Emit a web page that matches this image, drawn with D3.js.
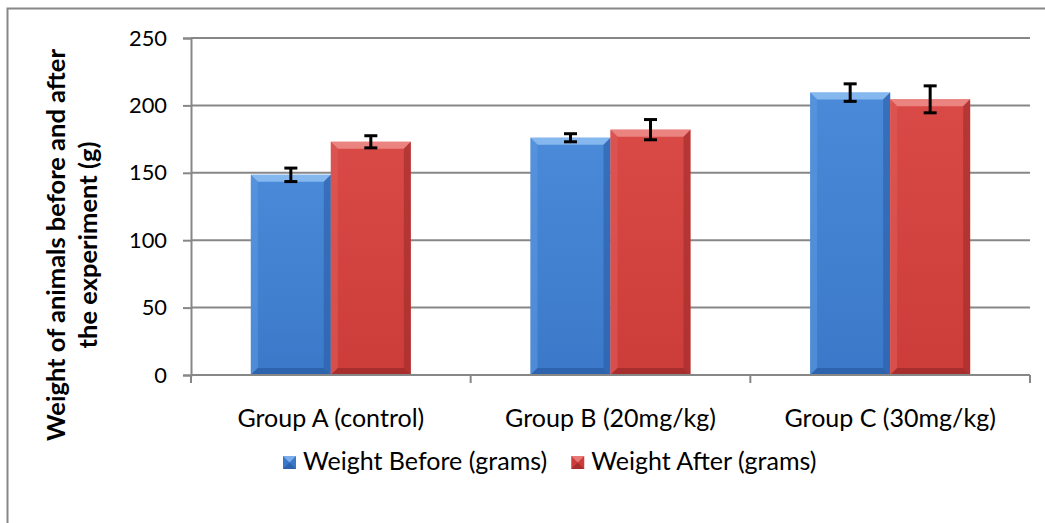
<!DOCTYPE html>
<html><head><meta charset="utf-8">
<script src="https://cdn.jsdelivr.net/npm/d3@7/dist/d3.min.js"></script>
<style>body{margin:0;background:#fff}svg{display:block}</style>
</head><body>
<script>
const categories = ["Group A (control)", "Group B (20mg/kg)", "Group C (30mg/kg)"];
const seriesNames = ["Weight Before (grams)", "Weight After (grams)"];
const before = [148.5, 176, 209.5];
const after = [173, 182, 204.5];
const beforeErr = [5, 3, 6.5];
const afterErr = [4.5, 7.5, 10];
const yTicks = [0, 50, 100, 150, 200, 250];
const yTitle = ["Weight of animals before and after", "the experiment (g)"];

(function () {
const W = 1045, H = 523;
const FONT = "Lato, 'Open Sans', sans-serif";
const svg = d3.select("body").append("svg").attr("width", W).attr("height", H);
const defs = svg.append("defs");

// fit a font size so that a sample string reaches a target width
function fitSize(sample, target, weight) {
  const t = svg.append("text").attr("font-family", FONT).attr("font-size", 20)
    .attr("font-weight", weight || "normal").text(sample);
  const w = t.node().getComputedTextLength();
  t.remove();
  return 20 * target / w;
}
const catSize = fitSize(categories[0], 187);
const tickSize = fitSize("250", 38);
const titleSize = fitSize(yTitle[0], 392, "bold");

const pLeft = 191, pRight = 1030, pTop = 38, pBottom = 375;
const x0 = d3.scaleBand().domain(categories).range([pLeft, pRight]).padding(0);
const x1 = d3.scaleBand().domain([0, 1]).range([x0.bandwidth() * 0.214, x0.bandwidth() * 0.786]).padding(0);
const y = d3.scaleLinear().domain([0, 250]).range([pBottom, pTop]);

// outer border
svg.append("rect").attr("x", 7.5).attr("y", 8.5).attr("width", 1200).attr("height", 700)
  .attr("fill", "#fff").attr("stroke", "#878787").attr("stroke-width", 2);

const colors = [
  {base: "#3b78c9", light: "#8cbcf2", mid: "#4a8ad8", dark: "#2a5ea6", side: "#5b98e0"},
  {base: "#cc3d3a", light: "#ec8a86", mid: "#d94a47", dark: "#9e2b29", side: "#dd5a57"}
];
colors.forEach((c, i) => {
  const g = defs.append("linearGradient").attr("id", "g" + i).attr("x1", 0).attr("x2", 0).attr("y1", 0).attr("y2", 1);
  g.append("stop").attr("offset", "0%").attr("stop-color", c.mid);
  g.append("stop").attr("offset", "100%").attr("stop-color", c.base);
});

// gridlines & y axis
const yAxis = d3.axisLeft(y).tickValues(yTicks).tickSize(8).tickPadding(16);
const ga = svg.append("g").attr("transform", `translate(${pLeft},0)`).call(yAxis);
ga.select(".domain").attr("stroke", "#878787").attr("stroke-width", 2);
ga.selectAll(".tick line").attr("stroke", "#878787").attr("stroke-width", 2);
ga.selectAll(".tick text").attr("font-family", FONT).attr("font-size", tickSize).attr("fill", "#000");
svg.append("g").selectAll("line").data(yTicks.filter(t => t > 0)).join("line")
  .attr("x1", pLeft).attr("x2", pRight).attr("y1", d => y(d)).attr("y2", d => y(d))
  .attr("stroke", "#878787").attr("stroke-width", 2);

// bars
const data = categories.map((c, i) => [
  {c, s: 0, v: before[i], e: beforeErr[i]},
  {c, s: 1, v: after[i], e: afterErr[i]}
]).flat();

const bevel = 7;
const bars = svg.append("g");
data.forEach(d => {
  const bx = x0(d.c) + x1(d.s), bw = x1.bandwidth(), by = y(d.v), bh = y(0) - y(d.v);
  const c = colors[d.s];
  const g = bars.append("g");
  g.append("rect").attr("x", bx).attr("y", by).attr("width", bw).attr("height", bh).attr("fill", "url(#g" + d.s + ")");
  const p = (pts, fill, op) => g.append("polygon").attr("points", pts.map(q => q.join(",")).join(" ")).attr("fill", fill).attr("opacity", op);
  p([[bx, by], [bx + bw, by], [bx + bw - bevel, by + bevel], [bx + bevel, by + bevel]], c.light, 0.9);
  p([[bx, by], [bx + bevel, by + bevel], [bx + bevel, by + bh - bevel], [bx, by + bh]], c.side, 0.6);
  p([[bx + bw, by], [bx + bw, by + bh], [bx + bw - bevel, by + bh - bevel], [bx + bw - bevel, by + bevel]], c.dark, 0.6);
  p([[bx, by + bh], [bx + bevel, by + bh - bevel], [bx + bw - bevel, by + bh - bevel], [bx + bw, by + bh]], c.dark, 0.8);
});

// x axis
const xa = svg.append("g");
xa.append("line").attr("x1", pLeft).attr("x2", pRight).attr("y1", pBottom).attr("y2", pBottom).attr("stroke", "#878787").attr("stroke-width", 2);
const bounds = categories.map(c => x0(c)).concat([pRight]);
xa.selectAll("line.t").data(bounds).join("line").attr("class", "t")
  .attr("x1", d => d).attr("x2", d => d).attr("y1", pBottom).attr("y2", pBottom + 8)
  .attr("stroke", "#878787").attr("stroke-width", 2);
xa.selectAll("text").data(categories).join("text")
  .attr("x", d => x0(d) + x0.bandwidth() / 2).attr("y", 427).attr("text-anchor", "middle")
  .attr("font-family", FONT).attr("font-size", catSize).text(d => d);

// error bars
const eb = svg.append("g").attr("stroke", "#000").attr("stroke-width", 3);
data.forEach(d => {
  const cx = x0(d.c) + x1(d.s) + x1.bandwidth() / 2;
  eb.append("line").attr("x1", cx).attr("x2", cx).attr("y1", y(d.v + d.e)).attr("y2", y(d.v - d.e));
  [d.v + d.e, d.v - d.e].forEach(v => eb.append("line").attr("x1", cx - 6.5).attr("x2", cx + 6.5).attr("y1", y(v)).attr("y2", y(v)));
});

// y title
[[65, yTitle[0]], [97, yTitle[1]]].forEach(([bx, t]) => {
  svg.append("text").attr("transform", `translate(${bx},245) rotate(-90)`).attr("text-anchor", "middle")
    .attr("font-family", FONT).attr("font-weight", "bold").attr("font-size", titleSize).text(t);
});

// legend: laid out left to right from measured text widths
let lx = 283;
seriesNames.forEach((n, i) => {
  const c = colors[i];
  const lg = svg.append("g");
  lg.append("rect").attr("x", lx).attr("y", 456).attr("width", 13).attr("height", 13).attr("fill", c.base);
  lg.append("polygon").attr("points", `${lx},456 ${lx+13},456 ${lx+6.5},462.5`).attr("fill", c.light).attr("opacity", 0.8);
  lg.append("polygon").attr("points", `${lx},469 ${lx+13},469 ${lx+6.5},462.5`).attr("fill", c.dark).attr("opacity", 0.8);
  const t = lg.append("text").attr("x", lx + 20).attr("y", 470).attr("font-family", FONT).attr("font-size", catSize).text(n);
  lx += 20 + t.node().getComputedTextLength() + 24;
});
})();
</script>
</body></html>
